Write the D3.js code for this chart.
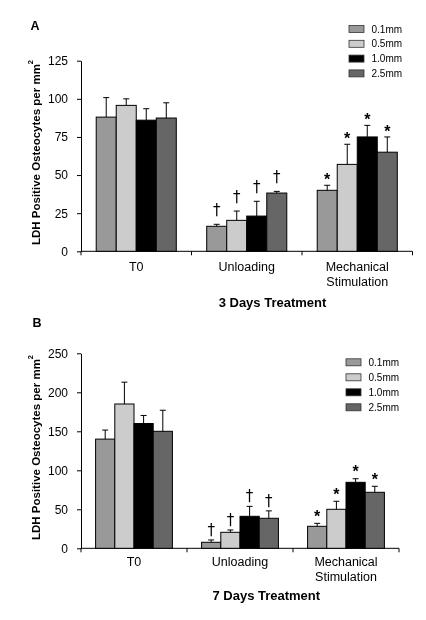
<!DOCTYPE html>
<html>
<head>
<meta charset="utf-8">
<script src="https://cdn.jsdelivr.net/npm/d3@7"></script>
<style>
  html, body { margin: 0; padding: 0; background: #fff; }
  svg { display: block; font-family: "Liberation Sans", Arial, sans-serif; will-change: transform; }
</style>
</head>
<body>
<svg id="chart" width="426" height="620"></svg>
<script>
// ---------- data ----------
const categories = ["T0", "Unloading", "Mechanical Stimulation"];
const series = ["0.1mm", "0.5mm", "1.0mm", "2.5mm"];
const seriesColors = ["#999999", "#cccccc", "#000000", "#666666"];

// Panel A: 3 Days Treatment (rows = categories, cols = series)
const valuesA = [[88, 95.7, 86, 87.4], [16.4, 20.3, 23.1, 38.2], [40, 57, 75, 65]];
const errorsA = [[12.8, 4.3, 7.5, 10], [1.3, 6.1, 9.7, 1.1], [3.3, 13.2, 7.6, 10]];
const marksA = [["", "", "", ""], ["†", "†", "†", "†"], ["*", "*", "*", "*"]];
const ticksA = [0, 25, 50, 75, 100, 125];

// Panel B: 7 Days Treatment
const valuesB = [[140, 185, 160, 150], [7.7, 20.5, 41, 38.5], [28.2, 50, 84.6, 71.8]];
const errorsB = [[11.6, 28, 10.3, 27], [3, 3, 12.8, 9.5], [3.8, 10.3, 4.6, 7.7]];
const marksB = [["", "", "", ""], ["†", "†", "†", "†"], ["*", "*", "*", "*"]];
const ticksB = [0, 50, 100, 150, 200, 250];

const yLabel = "LDH Positive Osteocytes per mm";

const svg = d3.select("#chart");

function panel(cfg) {
  const g = svg.append("g");
  const y = d3.scaleLinear().domain([0, cfg.max]).range([cfg.y0, cfg.yTop]);
  const x0 = d3.scaleBand().domain(categories).range([cfg.xl, cfg.xr]).paddingInner(0).paddingOuter(0);
  const x1 = d3.scaleBand().domain(series).range([0, x0.bandwidth()]).paddingInner(0).paddingOuter(0.76);
  const color = d3.scaleOrdinal().domain(series).range(seriesColors);

  // y axis
  const ya = g.append("g")
    .attr("transform", `translate(${cfg.xl},0)`)
    .call(d3.axisLeft(y).tickValues(cfg.ticks).tickSize(4).tickSizeOuter(0).tickPadding(9));
  ya.selectAll("text").attr("font-size", 12).attr("font-family", "Liberation Sans, Arial, sans-serif").attr("fill", "#000");
  ya.selectAll("line, path").attr("stroke", "#000");

  // x axis line with boundary ticks
  g.append("line").attr("x1", cfg.xl).attr("x2", cfg.xr).attr("y1", cfg.y0).attr("y2", cfg.y0).attr("stroke", "#000");
  const bounds = categories.map(c => x0(c)).concat([cfg.xr]);
  g.selectAll(".bt").data(bounds).join("line")
    .attr("x1", d => d).attr("x2", d => d).attr("y1", cfg.y0).attr("y2", cfg.y0 + 4).attr("stroke", "#000");

  // category labels
  categories.forEach(c => {
    const t = g.append("text").attr("text-anchor", "middle").attr("font-size", 12.5).attr("fill", "#000");
    const words = c === "Mechanical Stimulation" ? ["Mechanical", "Stimulation"] : [c];
    words.forEach((w, i) => {
      t.append("tspan").attr("x", x0(c) + x0.bandwidth() / 2).attr("y", cfg.y0 + cfg.labGap + i * cfg.labLine).text(w);
    });
  });

  // bars, error bars, marks
  categories.forEach((c, ci) => {
    series.forEach((s, si) => {
      const v = cfg.values[ci][si], e = cfg.errors[ci][si];
      const bx = x0(c) + x1(s), bw = x1.bandwidth();
      g.append("rect").attr("x", bx).attr("y", y(v)).attr("width", bw).attr("height", y(0) - y(v))
        .attr("fill", color(s)).attr("stroke", "#000").attr("stroke-width", 1);
      const cx = bx + bw / 2;
      g.append("line").attr("x1", cx).attr("x2", cx).attr("y1", y(v)).attr("y2", y(v + e)).attr("stroke", "#000");
      g.append("line").attr("x1", cx - 3).attr("x2", cx + 3).attr("y1", y(v + e)).attr("y2", y(v + e)).attr("stroke", "#000");
      const m = cfg.marks[ci][si];
      if (m === "†") {
        g.append("text").attr("x", cx).attr("y", y(v + e) - cfg.dagGap).attr("text-anchor", "middle")
          .attr("font-family", "DejaVu Sans").attr("font-size", 15).attr("fill", "#000").text(m);
      } else if (m === "*") {
        g.append("text").attr("x", cx).attr("y", y(v + e) - cfg.astGap).attr("text-anchor", "middle")
          .attr("font-size", 16).attr("font-weight", "bold").attr("fill", "#000").text(m);
      }
    });
  });

  // y label (rotated)
  const yl = g.append("text").attr("transform", "rotate(-90)")
    .attr("x", -cfg.labBottom).attr("y", 39.5).attr("text-anchor", "start")
    .attr("font-size", 11.5).attr("font-weight", "bold").attr("fill", "#000");
  yl.append("tspan").text(yLabel);
  yl.append("tspan").attr("font-size", 7.5).attr("dy", -7).text("2");

  // panel letter
  g.append("text").attr("x", cfg.letterX).attr("y", cfg.letterY).attr("font-size", 12.5)
    .attr("font-weight", "bold").attr("fill", "#000").text(cfg.letter);

  // title
  g.append("text").attr("x", cfg.titleX).attr("y", cfg.titleY).attr("text-anchor", "middle")
    .attr("font-size", 13).attr("font-weight", "bold").attr("fill", "#000").text(cfg.title);

  // legend
  series.forEach((s, i) => {
    const cy = cfg.legY + i * cfg.legStep;
    g.append("rect").attr("x", cfg.legX).attr("y", cy - 3.5).attr("width", 15).attr("height", 7)
      .attr("fill", color(s)).attr("stroke", "#333").attr("stroke-width", 0.8);
    g.append("text").attr("x", cfg.legX + 22.5).attr("y", cy + 3.6).attr("font-size", 10)
      .attr("fill", "#000").text(s);
  });
}

panel({
  values: valuesA, errors: errorsA, marks: marksA, ticks: ticksA, max: 125,
  xl: 81, xr: 412.5, y0: 251.3, yTop: 60.7,
  labGap: 19.7, labLine: 15, dagGap: 9, astGap: 0,
  labBottom: 245, letter: "A", letterX: 30.5, letterY: 30,
  title: "3 Days Treatment", titleX: 272.5, titleY: 306.8,
  legX: 349, legY: 29, legStep: 14.8
});

panel({
  values: valuesB, errors: errorsB, marks: marksB, ticks: ticksB, max: 250,
  xl: 81, xr: 399, y0: 548.3, yTop: 353.3,
  labGap: 18, labLine: 14.5, dagGap: 5, astGap: 1.5,
  labBottom: 540, letter: "B", letterX: 32.5, letterY: 327,
  title: "7 Days Treatment", titleX: 266.3, titleY: 600.3,
  legX: 346, legY: 362.3, legStep: 15
});
</script>
</body>
</html>
